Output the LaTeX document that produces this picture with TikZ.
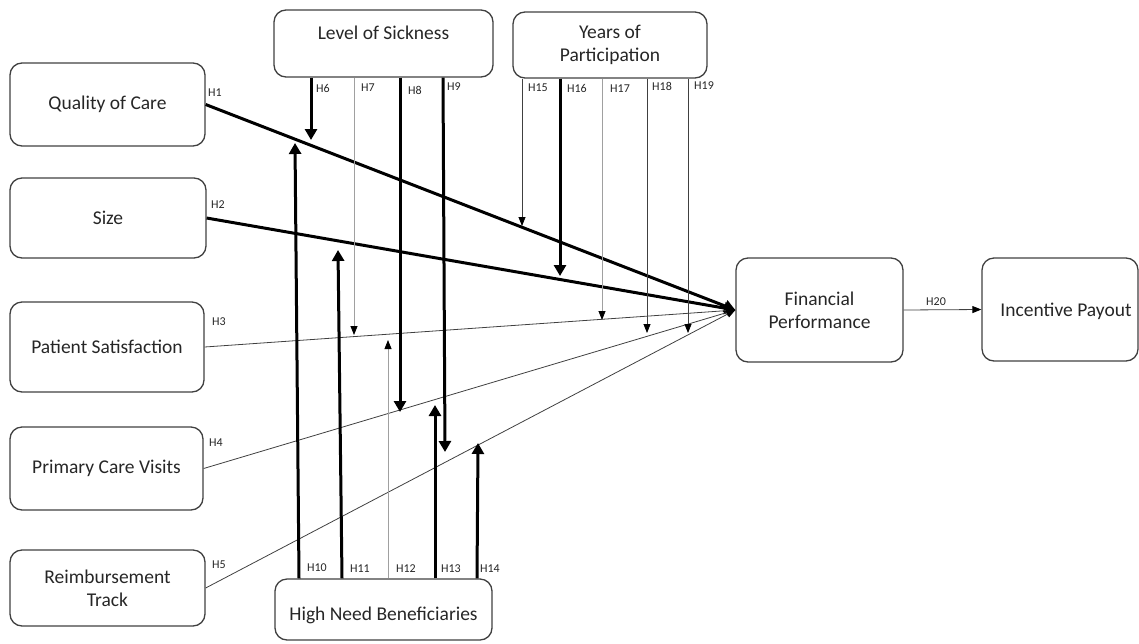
\documentclass[tikz,border=0pt]{standalone}
\usepackage{fontspec}
\setmainfont{Carlito}
\usetikzlibrary{arrows.meta}
\definecolor{bordc}{HTML}{404040}
\definecolor{txtc}{HTML}{262626}
\definecolor{grayln}{HTML}{A0A0A0}
\definecolor{thinln}{HTML}{404040}
\tikzset{
  box/.style={draw=bordc, line width=1.3pt, rounded corners=12pt, text=txtc,
    font=\fontsize{19.5}{23}\selectfont, align=center, inner sep=0pt},
  boxtext/.style={text=txtc, font=\fontsize{19.5}{23}\selectfont, align=center, inner sep=0pt},
  hlab/.style={text=txtc, font=\fontsize{12}{14}\selectfont, inner sep=0pt},
  thk/.style={line width=3pt, draw=black, -{Triangle[length=11pt,width=12pt]}},
  thn/.style={line width=0.8pt, draw=thinln, -{Triangle[length=9pt,width=7pt,color=black]}},
  gry/.style={line width=0.8pt, draw=grayln, -{Triangle[length=9pt,width=7pt,color=black]}},
}
\begin{document}
\begin{tikzpicture}[x=1pt,y=-1pt]
\useasboundingbox (0,0) rectangle (1139,643);
% left boxes
\node[box, minimum width=195, minimum height=83] (qoc) at (107.5,104.5) {Quality of Care};
\node[box, minimum width=196, minimum height=80] (size) at (108,218) {Size};
\node[box, minimum width=194, minimum height=90] (ps) at (107,347) {Patient Satisfaction};
\node[box, minimum width=193, minimum height=83] (pcv) at (106.5,468.5) {Primary Care Visits};
\node[box, minimum width=195, minimum height=76] (rt) at (107.5,588) {Reimbursement\\Track};
% moderators
\node[box, minimum width=219, minimum height=67] (los) at (383.5,43.5) {};
\node[boxtext] (lost) at (383.5,33) {Level of Sickness};
\node[box, minimum width=194, minimum height=66] (yop) at (610,45) {Years of\\Participation};
\node[box, minimum width=217, minimum height=61] (hnb) at (383.5,609.5) {};
\node[boxtext] (hnbt) at (383.5,615) {High Need Beneficiaries};
% outcomes
\node[box, minimum width=167, minimum height=104] (fp) at (819.5,310) {Financial\\Performance};
\node[box, minimum width=156, minimum height=103] (ip) at (1060,309.5) {};
\node[boxtext] (ipt) at (1066,311) {Incentive Payout};

% main paths
\draw[thk] (qoc.east) -- (fp.west);
\draw[thk] (size.east) -- (fp.west);
\draw[thn] (ps.east) -- (fp.west);
\draw[thn] (pcv.east) -- (fp.west);
\draw[thn] (rt.east) -- (fp.west);
\draw[thn] (fp.east) -- (ip.west);

% tip coordinates
\coordinate (t6) at (311,140);
\coordinate (t7) at (354,335);
\coordinate (t8) at (400,412);
\coordinate (t9) at (445,452);
\coordinate (t15) at (522,226);
\coordinate (t16) at (560,276);
\coordinate (t17) at (602,320);
\coordinate (t18) at (647,333);
\coordinate (t19) at (688,333);
\coordinate (t10) at (295,143);
\coordinate (t11) at (338,250);
\coordinate (t12) at (388,340);
\coordinate (t13) at (435,405);
\coordinate (t14) at (478,443);

% level of sickness
\draw[thk] (los.south -| t6) -- (t6);
\draw[gry] (los.south -| t7) -- (t7);
\draw[thk] (los.south -| t8) -- (t8);
\draw[thk] ([xshift=-0.5pt]los.south -| 443.5,0) -- (t9);
% years of participation
\draw[thn] (yop.south -| t15) -- (t15);
\draw[thk] (yop.south -| t16) -- (t16);
\draw[gry] (yop.south -| t17) -- (t17);
\draw[thn] (yop.south -| t18) -- (t18);
\draw[thn] (yop.south -| t19) -- (t19);
% high need beneficiaries
\draw[thk] ([xshift=-84.5pt]hnb.north) -- (t10);
\draw[thk] ([xshift=-41.5pt]hnb.north) -- (t11);
\draw[gry] (hnb.north -| t12) -- (t12);
\draw[thk] (hnb.north -| t13) -- (t13);
\draw[thk] ([xshift=93.5pt]hnb.north) -- (t14);

% labels
\node[hlab] (l1) at (215,93) {H1};
\node[hlab] (l2) at (218,205) {H2};
\node[hlab] (l3) at (219,322) {H3};
\node[hlab] (l4) at (216,443) {H4};
\node[hlab] (l5) at (219,565) {H5};
\node[hlab] (l6) at (323,88) {H6};
\node[hlab] (l7) at (368,88) {H7};
\node[hlab] (l8) at (415,90) {H8};
\node[hlab] (l9) at (454,87) {H9};
\node[hlab] (l10) at (317,568) {H10};
\node[hlab] (l11) at (360,569) {H11};
\node[hlab] (l12) at (406,569) {H12};
\node[hlab] (l13) at (451,569) {H13};
\node[hlab] (l14) at (490,569) {H14};
\node[hlab] (l15) at (538,88) {H15};
\node[hlab] (l16) at (577,88) {H16};
\node[hlab] (l17) at (620,89) {H17};
\node[hlab] (l18) at (662,86) {H18};
\node[hlab] (l19) at (704,86) {H19};
\node[hlab] (l20) at (936,302) {H20};
\end{tikzpicture}
\end{document}
